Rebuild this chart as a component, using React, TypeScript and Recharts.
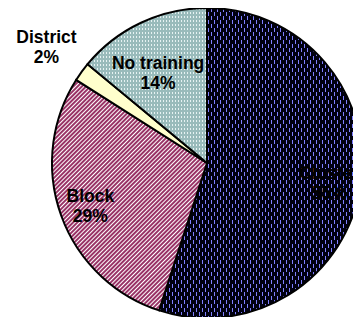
import React from 'react';
import { PieChart, Pie, Cell } from 'recharts';

const categories: string[] = ['Cluster', 'Block', 'District', 'No training'];
const shares: number[] = [55, 29, 2, 14];

const fills = ['url(#patCluster)', 'url(#patBlock)', '#FFFFCC', 'url(#patNone)'];
// how far out each label sits, as a fraction of the radius
const labelRadius = [0.8, 0.8, 1.28, 0.65];

const data = categories.map((name, i) => ({ name, value: shares[i] }));

const RAD = Math.PI / 180;

const renderLabel = (props: any) => {
  const { cx, cy, midAngle, outerRadius, index, name, value } = props;
  const r = outerRadius * labelRadius[index];
  const x = cx + r * Math.cos(-midAngle * RAD) - (index === 3 ? 6 : 0);
  const y = cy + r * Math.sin(-midAngle * RAD);
  return (
    <text
      x={x}
      y={y}
      textAnchor="middle"
      fill="#000"
      fontFamily="'Liberation Sans', Arial, sans-serif"
      fontWeight="bold"
      fontSize={17.5}
    >
      <tspan x={x} dy={-3}>{name}</tspan>
      <tspan x={x} dy={20}>{`${value}%`}</tspan>
    </text>
  );
};

const App: React.FC = () => {
  return (
    <div style={{ margin: -8, width: 361, height: 325, background: '#fff' }}>
      <PieChart width={361} height={325} margin={{ top: 0, right: 0, bottom: 0, left: 0 }}>
        <defs>
          <pattern id="patCluster" width="6" height="8" patternUnits="userSpaceOnUse">
            <rect width="6" height="8" fill="#000010" />
            <rect x="1" y="0" width="1" height="4" fill="#8080FF" />
            <rect x="4" y="4" width="1" height="4" fill="#8080FF" />
          </pattern>
          <pattern id="patBlock" width="3" height="3" patternUnits="userSpaceOnUse" patternTransform="rotate(45)">
            <rect width="3" height="3" fill="#993366" />
            <rect x="0" y="0" width="1" height="3" fill="#ffffff" />
          </pattern>
          <pattern id="patNone" width="3" height="4" patternUnits="userSpaceOnUse">
            <rect width="3" height="4" fill="#99BBBB" />
            <rect x="1" y="0" width="1" height="2" fill="#E6F2F2" />
          </pattern>
        </defs>
        <Pie
          data={data}
          dataKey="value"
          nameKey="name"
          cx={207}
          cy={163}
          outerRadius={155}
          startAngle={90}
          endAngle={-270}
          stroke="#000"
          strokeWidth={2}
          label={renderLabel}
          labelLine={false}
          isAnimationActive={false}
        >
          {data.map((d, i) => (
            <Cell key={d.name} fill={fills[i]} />
          ))}
        </Pie>
      </PieChart>
    </div>
  );
};

export default App;
